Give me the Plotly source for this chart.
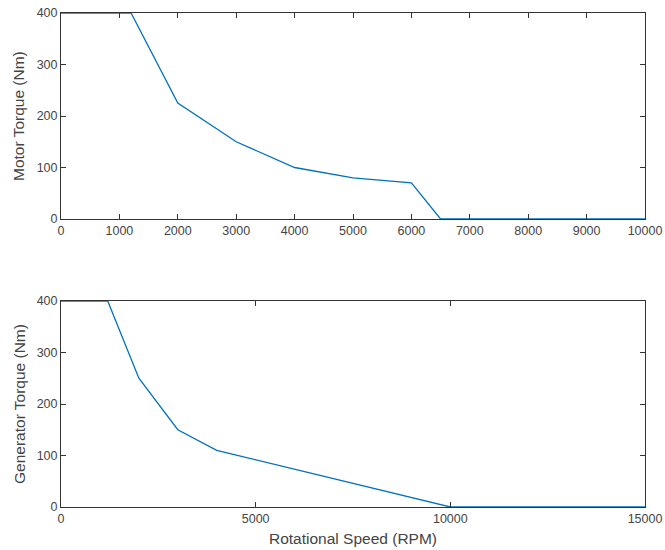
import plotly.graph_objects as go
from plotly.subplots import make_subplots

motor_speed = [0, 1200, 2000, 3000, 4000, 5000, 6000, 6500, 10000]
motor_torque = [400, 400, 225, 150, 100, 80, 70, 0, 0]
gen_speed = [0, 1200, 2000, 3000, 4000, 10000, 15000]
gen_torque = [400, 400, 250, 150, 110, 0, 0]
top_xticks = list(range(0, 10001, 1000))
bottom_xticks = [0, 5000, 10000, 15000]
yticks = [0, 100, 200, 300, 400]

fig = make_subplots(rows=2, cols=1, vertical_spacing=0.166)
fig.add_trace(go.Scatter(x=motor_speed, y=motor_torque, mode="lines",
                         line=dict(color="#0072BD", width=1.3)), row=1, col=1)
fig.add_trace(go.Scatter(x=gen_speed, y=gen_torque, mode="lines",
                         line=dict(color="#0072BD", width=1.3)), row=2, col=1)

axis_style = dict(showline=True, linecolor="#333333", linewidth=1, mirror="ticks",
                  ticks="inside", ticklen=5, tickcolor="#333333", showgrid=False,
                  zeroline=False, automargin=False,
                  tickfont=dict(size=12.5, color="#444444"))
title_font = dict(size=15.5, color="#444444",
                  family="Liberation Sans, Arial, sans-serif")

fig.update_xaxes(range=[0, 10000], tickvals=top_xticks,
                 ticktext=[str(v) for v in top_xticks], row=1, col=1, **axis_style)
fig.update_xaxes(range=[0, 15000], tickvals=bottom_xticks,
                 ticktext=[str(v) for v in bottom_xticks], row=2, col=1, **axis_style)
fig.update_yaxes(range=[0, 400], tickvals=yticks, row=1, col=1, **axis_style)
fig.update_yaxes(range=[0, 400], tickvals=yticks, row=2, col=1, **axis_style)

# axis titles as annotations for exact placement
fig.add_annotation(text="Rotational Speed (RPM)", xref="x2 domain", yref="paper",
                   x=0.5, y=0, yshift=-31, xanchor="center", yanchor="middle",
                   showarrow=False, font=title_font)
fig.add_annotation(text="Motor Torque (Nm)", xref="paper", yref="y domain",
                   x=0, y=0.5, xshift=-42, xanchor="center", yanchor="middle",
                   textangle=-90, showarrow=False, font=title_font)
fig.add_annotation(text="Generator Torque (Nm)", xref="paper", yref="y2 domain",
                   x=0, y=0.5, xshift=-42, xanchor="center", yanchor="middle",
                   textangle=-90, showarrow=False, font=title_font)

fig.update_layout(width=665, height=550, showlegend=False,
                  margin=dict(l=61, r=20, t=13, b=43),
                  plot_bgcolor="white", paper_bgcolor="white",
                  font=dict(family="Liberation Sans, Arial, sans-serif", color="#444444"))
fig.write_html("out.html")
